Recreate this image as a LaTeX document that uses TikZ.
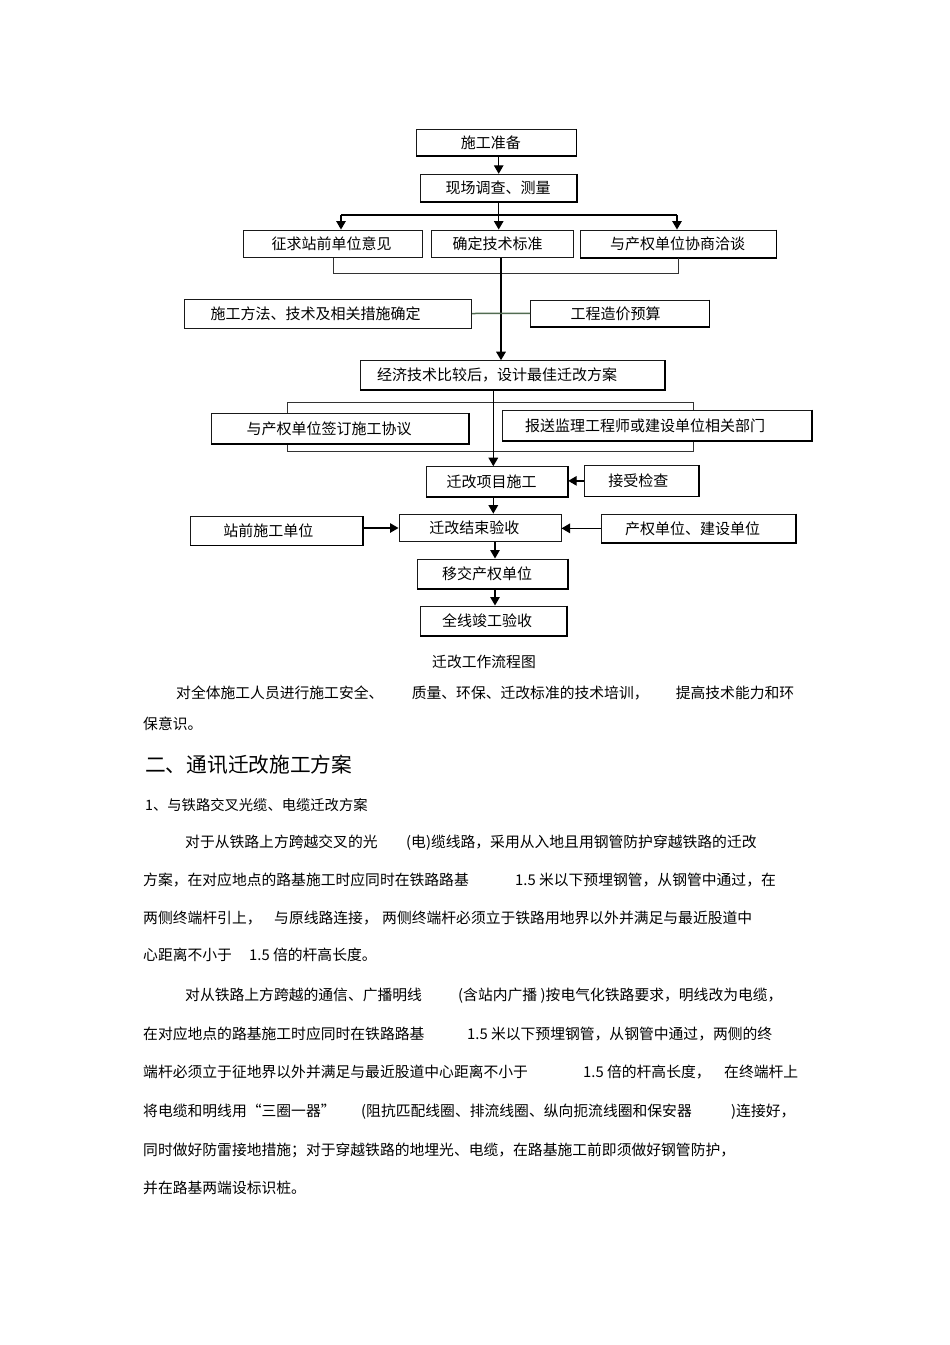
\documentclass[tikz,border=0pt]{standalone}
\usepackage{fontspec}
\newfontfamily\cjk{Noto Sans CJK SC}
\usetikzlibrary{arrows.meta}
\definecolor{linkgreen}{RGB}{82,108,82}
\newcommand{\boxfont}{\cjk\fontsize{15}{18}\selectfont}
\newcommand{\paratext}{\cjk\fontsize{14.8}{18}\selectfont}
\newcommand{\headtext}{\cjk\fontsize{20.7}{24}\selectfont}
\newcommand{\subtext}{\cjk\fontsize{14.3}{17}\selectfont}
\tikzset{
  box/.style={draw=black!90, fill=white, line width=1pt, align=left, inner ysep=0pt, font=\boxfont},
  flow/.style={draw=black, line width=1.3pt, -{Triangle[length=8.5pt,width=9.5pt]}},
  trunk/.style={flow, line width=1.7pt},
  link/.style={draw=black!80, line width=1pt},
  greenlink/.style={draw=linkgreen, line width=1.5pt},
  rim/.style={draw=black, line width=1.6pt},
  para/.style={anchor=base west, inner sep=0pt, font=\paratext},
}
\begin{document}
\begin{tikzpicture}[x=1pt, y=-1pt]
    % Page
    \fill[white] (0,0) rectangle (950,1345);
    \useasboundingbox (0,0) rectangle (950,1345);
    % Frame behind the agreement boxes
    \draw[link] (287.7,402.3) rectangle (693,451);
    % Boxes
    \node[box, minimum height=26.4pt, text width=71.3pt, inner xsep=44pt] (prep) at (496.4,142.5) {施工准备};
    \node[box, minimum height=27.4pt, text width=106pt, inner xsep=25pt] (survey) at (498.7,188) {现场调查、测量};
    \node[box, minimum height=27.3pt, text width=123.8pt, inner xsep=27.6pt] (opinion) at (333.4,243.7) {征求站前单位意见};
    \node[box, minimum height=27.3pt, text width=100.1pt, inner xsep=20.8pt] (standard) at (502.55,243.7) {确定技术标准};
    \node[box, minimum height=27.3pt, text width=136pt, inner xsep=30pt] (negotiate) at (678,243.7) {与产权单位协商洽谈};
    \node[box, minimum height=29pt, text width=234.7pt, inner xsep=26.5pt] (method) at (327.85,313.5) {施工方法、技术及相关措施确定};
    \node[box, minimum height=26.7pt, text width=98.7pt, inner xsep=39.8pt] (budget) at (619.85,313.35) {工程造价预算};
    \node[box, minimum height=28.6pt, text width=270.5pt, inner xsep=17pt] (plan) at (512.25,375) {经济技术比较后，设计最佳迁改方案};
    \node[box, minimum height=30pt, text width=186.6pt, inner xsep=35pt] (sign) at (340,428.3) {与产权单位签订施工协议};
    \node[box, minimum height=30.7pt, text width=264.4pt, inner xsep=22.3pt] (report) at (657.2,425.35) {报送监理工程师或建设单位相关部门};
    \node[box, minimum height=30pt, text width=101pt, inner xsep=20pt] (construct) at (497.2,481.7) {迁改项目施工};
    \node[box, minimum height=30.3pt, text width=66pt, inner xsep=24pt] (inspect) at (641.3,480.85) {接受检查};
    \node[box, minimum height=28.3pt, text width=105.7pt, inner xsep=33.3pt] (station) at (276.15,530.85) {站前施工单位};
    \node[box, minimum height=27.7pt, text width=101.4pt, inner xsep=30.3pt] (accept) at (480,528) {迁改结束验收};
    \node[box, minimum height=28.7pt, text width=146.7pt, inner xsep=24pt] (owner) at (698.35,528.35) {产权单位、建设单位};
    \node[box, minimum height=29.3pt, text width=100.3pt, inner xsep=25pt] (handover) at (492.15,573.65) {移交产权单位};
    \node[box, minimum height=29.7pt, text width=102.5pt, inner xsep=22pt] (final) at (493.25,620.85) {全线竣工验收};
    % Heavier right and bottom edges
    \foreach \n in {prep,survey,negotiate,budget,plan,sign,report,construct,inspect,station,owner,handover,final}
        \draw[rim] (\n.north east) -- (\n.south east) -- (\n.south west);
    % Connectors
    \coordinate (left drop) at (341,215);
    \coordinate (right drop) at (677,215);
    \coordinate (axis) at (501,0);
    \coordinate (axis2) at (493.3,0);
    \coordinate (axis3) at (495,0);
    \draw[flow] (prep.south -| survey.north) -- (survey.north);
    \draw[line width=1.3pt] (survey.south) -- (survey.south |- left drop);
    \draw[line width=1.1pt] (left drop) -- (right drop);
    \draw[flow] (left drop) -- (left drop |- opinion.north);
    \draw[flow] (survey.south |- left drop) -- (survey.south |- standard.north);
    \draw[flow] (right drop) -- (right drop |- negotiate.north);
    \draw[link] (opinion.south) -- ++(0,15.7) -| (negotiate.south);
    \draw[trunk] (axis |- standard.south) -- (axis |- plan.north);
    \draw[greenlink] (method.east) -- (budget.west);
    \draw[flow] (axis2 |- plan.south) -- (axis2 |- construct.north);
    \draw[flow] (inspect.west) -- (construct.east |- inspect.west);
    \draw[flow] (axis2 |- construct.south) -- (axis2 |- accept.north);
    \draw[flow] (station.east |- accept.west) -- (accept.west);
    \draw[flow] (owner.west) -- (accept.east |- owner.west);
    \draw[flow] (axis3 |- accept.south) -- (axis3 |- handover.north);
    \draw[flow] (axis3 |- handover.south) -- (axis3 |- final.north);
    % Caption
    \node[para] (caption) at (432,667.3) {迁改工作流程图};
    % Text
    \node[para] (l1a) at (176,698.1) {对全体施工人员进行施工安全、};
    \node[para] (l1b) at (411.6,698.1) {质量、环保、迁改标准的技术培训，};
    \node[para] (l1c) at (675.6,698.1) {提高技术能力和环};
    \node[para] (l2) at (143,729.6) {保意识。};
    \node[para, font=\headtext] (head) at (145,772.4) {二、通讯迁改施工方案};
    \node[para, font=\subtext] (sub) at (145,810.9) {1、与铁路交叉光缆、电缆迁改方案};
    \node[para] (p1a) at (185,847.1) {对于从铁路上方跨越交叉的光};
    \node[para] (p1b) at (406,847.1) {(电)缆线路，采用从入地且用钢管防护穿越铁路的迁改};
    \node[para] (p2a) at (143,885.6) {方案，在对应地点的路基施工时应同时在铁路路基};
    \node[para] (p2b) at (515,885.6) {1.5 米以下预埋钢管，从钢管中通过，在};
    \node[para] (p3a) at (143,923.3) {两侧终端杆引上，};
    \node[para] (p3b) at (274,923.3) {与原线路连接，};
    \node[para] (p3c) at (382,923.3) {两侧终端杆必须立于铁路用地界以外并满足与最近股道中};
    \node[para] (p4a) at (143,960.6) {心距离不小于};
    \node[para] (p4b) at (249,960.6) {1.5 倍的杆高长度。};
    \node[para] (q1a) at (185,1000.6) {对从铁路上方跨越的通信、广播明线};
    \node[para] (q1b) at (458,1000.6) {(含站内广播};
    \node[para] (q1c) at (540.5,1000.6) {)按电气化铁路要求，明线改为电缆，};
    \node[para] (q2a) at (143,1039.1) {在对应地点的路基施工时应同时在铁路路基};
    \node[para] (q2b) at (467,1039.1) {1.5 米以下预埋钢管，从钢管中通过，两侧的终};
    \node[para] (q3a) at (143,1077.6) {端杆必须立于征地界以外并满足与最近股道中心距离不小于};
    \node[para] (q3b) at (583,1077.6) {1.5 倍的杆高长度，};
    \node[para] (q3c) at (724,1077.6) {在终端杆上};
    \node[para] (q4a) at (143,1116.6) {将电缆和明线用“三圈一器”};
    \node[para] (q4b) at (361,1116.6) {(阻抗匹配线圈、排流线圈、纵向扼流线圈和保安器};
    \node[para] (q4c) at (731,1116.6) {)连接好，};
    \node[para] (q5) at (143,1155.1) {同时做好防雷接地措施；对于穿越铁路的地埋光、电缆，在路基施工前即须做好钢管防护，};
    \node[para] (q6) at (143,1193.6) {并在路基两端设标识桩。};
\end{tikzpicture}
\end{document}
